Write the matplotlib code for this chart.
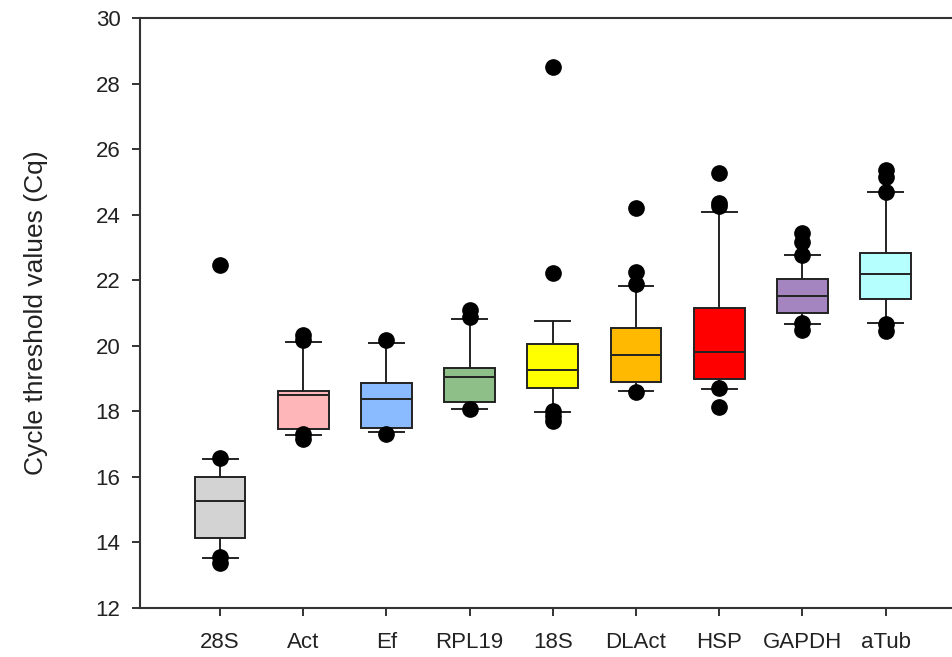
import matplotlib
matplotlib.use("Agg")
import matplotlib.pyplot as plt

categories = ["28S", "Act", "Ef", "RPL19", "18S", "DLAct", "HSP", "GAPDH", "aTub"]
medians = [15.27, 18.50, 18.38, 19.05, 19.25, 19.72, 19.82, 21.52, 22.19]
q1 = [14.15, 17.46, 17.48, 18.28, 18.70, 18.89, 18.98, 20.99, 21.42]
q3 = [16.01, 18.63, 18.86, 19.33, 20.05, 20.55, 21.14, 22.03, 22.82]
whisker_low = [13.52, 17.28, 17.36, 18.06, 17.99, 18.62, 18.67, 20.66, 20.69]
whisker_high = [16.55, 20.13, 20.08, 20.81, 20.77, 21.82, 24.09, 22.77, 24.68]
outliers = [
    [22.46, 16.59, 13.55, 13.37],
    [20.33, 20.18, 17.31, 17.15],
    [20.18, 17.30],
    [21.09, 20.87, 18.06],
    [28.50, 22.23, 18.00, 17.85, 17.72],
    [24.19, 22.26, 21.88, 18.60],
    [25.26, 24.35, 24.25, 18.70, 18.14],
    [23.43, 23.16, 22.77, 20.69, 20.48],
    [25.36, 25.16, 24.70, 20.65, 20.45],
]
colors = ["#d3d3d3", "#ffb6b9", "#8abaff", "#8fbf88", "#ffff00",
          "#ffb900", "#ff0000", "#a585c0", "#b5ffff"]

plt.rcParams["font.family"] = ["Liberation Sans", "DejaVu Sans"]

fig = plt.figure(figsize=(9.53, 6.57), dpi=100)
ax = fig.add_axes([140 / 953, 49 / 657, 1 - 140 / 953, 590 / 657])

stats = []
for i, name in enumerate(categories):
    stats.append(dict(label=name, med=medians[i], q1=q1[i], q3=q3[i],
                      whislo=whisker_low[i], whishi=whisker_high[i],
                      fliers=outliers[i]))

positions = list(range(1, len(categories) + 1))
bp = ax.bxp(stats, positions=positions, widths=0.61, capwidths=0.42,
            patch_artist=True, showfliers=True,
            boxprops=dict(edgecolor="#222222", linewidth=1.4),
            medianprops=dict(color="#222222", linewidth=1.4),
            whiskerprops=dict(color="#222222", linewidth=1.4),
            capprops=dict(color="#222222", linewidth=1.4),
            flierprops=dict(marker="o", markerfacecolor="black",
                            markeredgecolor="black", markersize=11))
for patch, c in zip(bp["boxes"], colors):
    patch.set_facecolor(c)

ax.set_xlim(0.038, 9.81)
ax.set_ylim(12, 30)
ax.set_yticks([12, 14, 16, 18, 20, 22, 24, 26, 28, 30])
ax.set_xticks(positions)
ax.set_xticklabels(categories)
ax.tick_params(axis="both", direction="out", length=6, width=1.4,
               labelsize=16, color="#333333", labelcolor="#222222")
ax.tick_params(axis="x", pad=11)
ax.tick_params(axis="y", pad=8)
for s in ["left", "bottom", "top"]:
    ax.spines[s].set_linewidth(1.5)
    ax.spines[s].set_color("#333333")
ax.spines["right"].set_visible(False)
ax.set_ylabel("Cycle threshold values (Cq)", fontsize=19, color="#222222",
              labelpad=34)

fig.savefig("out.png", dpi=100)
